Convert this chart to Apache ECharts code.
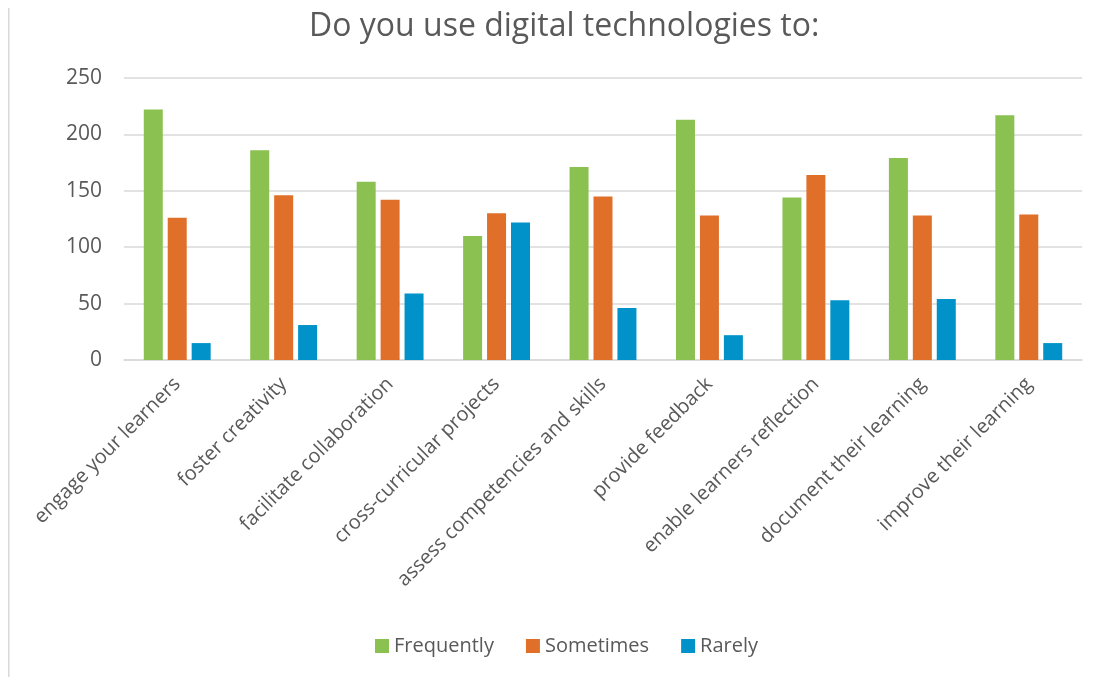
<!DOCTYPE html>
<html>
<head>
<meta charset="utf-8">
<script src="https://cdn.jsdelivr.net/npm/echarts@6/dist/echarts.min.js"></script>
<style>html,body{margin:0;padding:0;background:#fff;}#c{width:1106px;height:677px;}</style>
</head>
<body>
<div id="c"></div>
<script>
const categories = ["engage your learners","foster creativity","facilitate collaboration","cross-curricular projects","assess competencies and skills","provide feedback","enable learners reflection","document their learning","improve their learning"];
const frequently = [222,186,158,110,171,213,144,179,217];
const sometimes = [126,146,142,130,145,128,164,128,129];
const rarely = [15,31,59,122,46,22,53,54,15];
const seriesNames = ["Frequently","Sometimes","Rarely"];
const colors = ["#8BC151","#E07029","#0092C8"];

const chart = echarts.init(document.getElementById('c'));
const font = "'Open Sans', 'DejaVu Sans', sans-serif";
chart.setOption({
  animation:false,
  color: colors,
  title:{text:"Do you use digital technologies to:",left:304,top:6,
    textStyle:{fontFamily:font,fontSize:32,fontWeight:'normal',color:'#595959'}},
  graphic:[{type:'rect',shape:{x:8,y:8,width:1.5,height:669},style:{fill:'#d9d9d9'}}],
  legend:{bottom:16,left:370,itemWidth:14,itemHeight:14,itemGap:32,icon:'rect',
    textStyle:{fontFamily:font,fontSize:20,color:'#595959'},data:seriesNames},
  grid:{left:124,right:24,top:78,bottom:317},
  xAxis:{type:'category',data:categories,
    axisLine:{lineStyle:{color:'#d9d9d9',width:1.5}},axisTick:{show:false},
    axisLabel:{rotate:45,interval:0,fontFamily:font,fontSize:20,color:'#595959',margin:21}},
  yAxis:{type:'value',min:0,max:250,interval:50,
    axisLine:{show:false},axisTick:{show:false},
    splitLine:{lineStyle:{color:'#d9d9d9',width:1.5}},
    axisLabel:{fontFamily:font,fontSize:21,color:'#595959',margin:22}},
  series:[
    {name:seriesNames[0],type:'bar',data:frequently,barWidth:19,barGap:'26%'},
    {name:seriesNames[1],type:'bar',data:sometimes,barWidth:19,barGap:'26%'},
    {name:seriesNames[2],type:'bar',data:rarely,barWidth:19,barGap:'26%'}
  ]
});
</script>
</body>
</html>
